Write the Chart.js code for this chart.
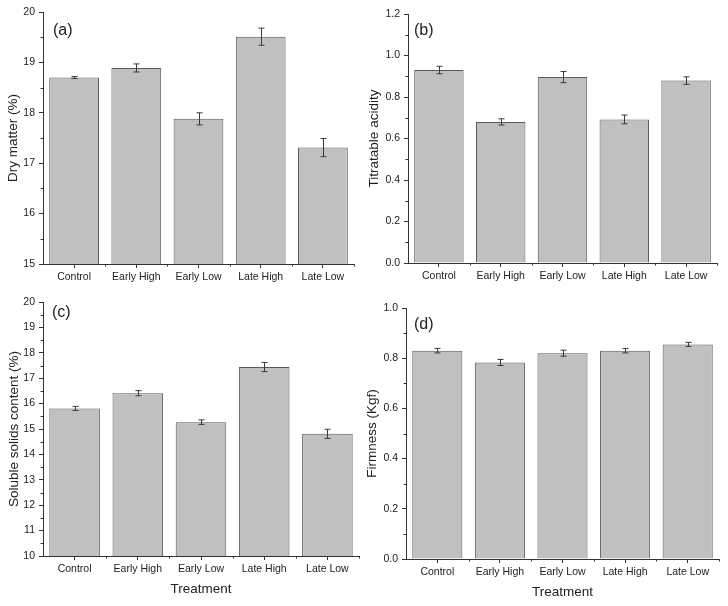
<!DOCTYPE html>
<html>
<head>
<meta charset="utf-8">
<script src="https://cdn.jsdelivr.net/npm/chart.js@4.4.1/dist/chart.umd.min.js"></script>
<style>
  html, body { margin: 0; padding: 0; background: #fff; }
  #wrap { position: relative; width: 728px; height: 606px; background: #fff; overflow: hidden; }
  canvas { position: absolute; display: block; }
</style>
</head>
<body>
<div id="wrap">
  <canvas id="ca" width="364" height="290" style="left:0;top:0"></canvas>
  <canvas id="cb" width="364" height="290" style="left:364px;top:0"></canvas>
  <canvas id="cc" width="364" height="316" style="left:0;top:290px"></canvas>
  <canvas id="cd" width="364" height="316" style="left:364px;top:290px"></canvas>
</div>
<script>
// ---- data ----
const categories = ['Control', 'Early High', 'Early Low', 'Late High', 'Late Low'];

const dryMatter    = [18.70, 18.89, 17.88, 19.51, 17.31];
const dryMatterErr = [0.02, 0.08, 0.12, 0.17, 0.18];

const titratableAcidity    = [0.930, 0.680, 0.896, 0.692, 0.879];
const titratableAcidityErr = [0.018, 0.015, 0.027, 0.021, 0.018];

const solubleSolids    = [15.81, 16.41, 15.27, 17.44, 14.81];
const solubleSolidsErr = [0.08, 0.10, 0.09, 0.18, 0.18];

const firmness    = [0.830, 0.783, 0.820, 0.830, 0.855];
const firmnessErr = [0.009, 0.012, 0.012, 0.009, 0.008];

const panelLabels = ['(a)', '(b)', '(c)', '(d)'];
const yTitles = ['Dry matter (%)', 'Titratable acidity', 'Soluble solids content (%)', 'Firmness (Kgf)'];
const xTitle = 'Treatment';

const yRangeA = [15, 20], yStepA = 1;
const yRangeB = [0, 1.2], yStepB = 0.2;
const yRangeC = [10, 20], yStepC = 1;
const yRangeD = [0, 1.0], yStepD = 0.2;

// ---- styling ----
const FONT = "'Liberation Sans', Arial, sans-serif";
const TEXT = '#222222';
const AXIS = '#333333';

const errorBarPlugin = {
  id: 'errorBars',
  afterDatasetsDraw(chart, args, opts) {
    const ctx = chart.ctx;
    const y = chart.scales.y;
    const meta = chart.getDatasetMeta(0);
    const vals = chart.data.datasets[0].data;
    const errs = opts.errors || [];
    ctx.save();
    ctx.strokeStyle = '#3a3a3a';
    ctx.lineWidth = 1;
    meta.data.forEach((bar, i) => {
      const e = errs[i];
      if (e == null) return;
      const x = Math.round(bar.x) + 0.5;
      const yt = y.getPixelForValue(vals[i] + e);
      const yb = y.getPixelForValue(vals[i] - e);
      const cap = 3;
      ctx.beginPath();
      ctx.moveTo(x, yt); ctx.lineTo(x, yb);
      ctx.moveTo(x - cap, yt); ctx.lineTo(x + cap, yt);
      ctx.moveTo(x - cap, yb); ctx.lineTo(x + cap, yb);
      ctx.stroke();
    });
    ctx.restore();
  }
};

const minorTickPlugin = {
  id: 'minorTicks',
  afterDraw(chart) {
    const ctx = chart.ctx;
    const xs = chart.scales.x, ys = chart.scales.y;
    const area = chart.chartArea;
    ctx.save();
    ctx.strokeStyle = AXIS;
    ctx.lineWidth = 1;
    ctx.beginPath();
    // y minor ticks at midpoints between majors
    const ticks = ys.ticks.map(t => t.value);
    for (let i = 0; i < ticks.length - 1; i++) {
      const v = (ticks[i] + ticks[i + 1]) / 2;
      const py = Math.round(ys.getPixelForValue(v)) + 0.5;
      ctx.moveTo(area.left - 2.5, py);
      ctx.lineTo(area.left, py);
    }
    // x minor ticks at category boundaries
    const n = chart.data.labels.length;
    for (let i = 0; i < n; i++) {
      const p0 = xs.getPixelForValue(i);
      const p1 = i < n - 1 ? xs.getPixelForValue(i + 1) : p0 + (p0 - xs.getPixelForValue(i - 1));
      const px = Math.round((p0 + p1) / 2) + 0.5;
      ctx.moveTo(px, area.bottom);
      ctx.lineTo(px, area.bottom + 2.5);
    }
    ctx.stroke();
    ctx.restore();
  }
};

const panelLabelPlugin = {
  id: 'panelLabel',
  afterDraw(chart, args, opts) {
    const ctx = chart.ctx;
    const area = chart.chartArea;
    ctx.save();
    ctx.fillStyle = TEXT;
    ctx.font = '16px ' + FONT;
    ctx.textAlign = 'left';
    ctx.textBaseline = 'middle';
    ctx.fillText(opts.text, area.left + opts.dx, area.top + opts.dy);
    ctx.restore();
  }
};

function makeChart(id, values, errors, cfg) {
  return new Chart(document.getElementById(id), {
    type: 'bar',
    data: {
      labels: categories,
      datasets: [{
        data: values,
        backgroundColor: '#c0c0c0',
        borderColor: '#5a5a5a',
        borderWidth: 1,
        barPercentage: 0.8,
        categoryPercentage: 1.0
      }]
    },
    plugins: [errorBarPlugin, minorTickPlugin, panelLabelPlugin],
    options: {
      responsive: false,
      animation: false,
      devicePixelRatio: 1,
      layout: { padding: { top: cfg.padTop, right: cfg.padRight, left: 0, bottom: 0 } },
      plugins: {
        legend: { display: false },
        tooltip: { enabled: false },
        errorBars: { errors: errors },
        panelLabel: { text: cfg.label, dx: cfg.labelDx, dy: cfg.labelDy }
      },
      scales: {
        x: {
          offset: true,
          grid: { offset: false, drawOnChartArea: false, drawTicks: true, tickLength: 4, color: AXIS },
          border: { display: true, color: AXIS, width: 1 },
          ticks: { color: TEXT, font: { family: FONT, size: 10.5 }, padding: 3, maxRotation: 0, autoSkip: false },
          title: cfg.showXTitle ? {
            display: true, text: xTitle, color: TEXT,
            font: { family: FONT, size: 13.5 }, padding: { top: 0, bottom: cfg.xTitlePad }
          } : { display: false },
          afterFit(scale) { scale.height = cfg.xHeight; }
        },
        y: {
          min: cfg.range[0], max: cfg.range[1],
          grid: { drawOnChartArea: false, drawTicks: true, tickLength: 4, color: AXIS },
          border: { display: true, color: AXIS, width: 1 },
          ticks: {
            stepSize: cfg.step, color: TEXT, font: { family: FONT, size: 10.5 }, padding: 4,
            callback: v => cfg.decimals ? Number(v).toFixed(cfg.decimals) : String(Math.round(v))
          },
          title: {
            display: true, text: cfg.yTitle, color: TEXT,
            font: { family: FONT, size: 13.5 }, padding: { top: cfg.yTitlePad, bottom: 0 }
          },
          afterFit(scale) { scale.width = cfg.yWidth; }
        }
      }
    }
  });
}

makeChart('ca', dryMatter, dryMatterErr, {
  range: yRangeA, step: yStepA, decimals: 0, yTitle: yTitles[0], label: panelLabels[0],
  padTop: 12, padRight: 10, yWidth: 43, xHeight: 26, showXTitle: false,
  yTitlePad: 5, labelDx: 10, labelDy: 19
});
makeChart('cb', titratableAcidity, titratableAcidityErr, {
  range: yRangeB, step: yStepB, decimals: 1, yTitle: yTitles[1], label: panelLabels[1],
  padTop: 14, padRight: 11, yWidth: 44, xHeight: 27, showXTitle: false,
  yTitlePad: 2, labelDx: 6, labelDy: 17
});
makeChart('cc', solubleSolids, solubleSolidsErr, {
  range: yRangeC, step: yStepC, decimals: 0, yTitle: yTitles[2], label: panelLabels[2],
  padTop: 12, padRight: 5, yWidth: 43, xHeight: 50, showXTitle: true, xTitlePad: 9,
  yTitlePad: 6, labelDx: 9, labelDy: 11
});
makeChart('cd', firmness, firmnessErr, {
  range: yRangeD, step: yStepD, decimals: 1, yTitle: yTitles[3], label: panelLabels[3],
  padTop: 18, padRight: 9, yWidth: 42, xHeight: 47, showXTitle: true, xTitlePad: 6,
  yTitlePad: 0.5, labelDx: 8, labelDy: 17
});
</script>
</body>
</html>
